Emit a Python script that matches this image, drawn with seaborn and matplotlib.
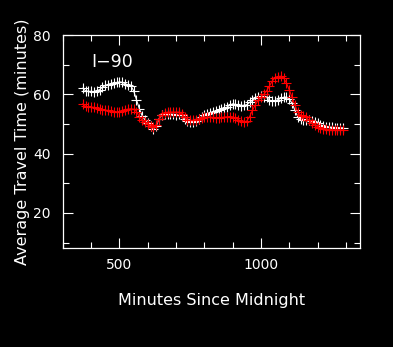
import numpy as np
import pandas as pd
import matplotlib
matplotlib.use("Agg")
import matplotlib.pyplot as plt
import seaborn as sns
from matplotlib.ticker import MultipleLocator

# Sample times (minutes since midnight), every 10 minutes
minutes = list(range(370, 1300, 10))

# Average travel time, white series
travel_white = [
    62.1, 61.2, 61.0, 61.0, 60.9, 61.2, 61.6, 62.4, 63.0, 63.3,
    63.6, 63.8, 64.0, 64.2, 64.0, 63.6, 63.2, 62.9, 61.2, 58.2,
    55.2, 52.8, 51.4, 50.3, 49.2, 48.4, 49.4, 51.8, 53.0, 53.2,
    53.4, 53.3, 53.2, 53.0, 53.2, 52.9, 51.6, 50.9, 50.5, 50.7,
    51.0, 51.6, 52.3, 52.9, 53.3, 53.7, 54.0, 54.3, 54.6, 55.0,
    55.3, 55.7, 56.3, 56.8, 56.6, 56.3, 56.2, 56.3, 56.5, 57.3,
    58.0, 58.6, 59.1, 59.3, 59.2, 59.0, 58.1, 57.6, 57.8, 58.2,
    58.6, 59.0, 59.1, 58.3, 57.0, 54.6, 52.4, 51.8, 51.5, 51.3,
    51.2, 51.0, 50.7, 50.2, 49.7, 49.4, 49.1, 48.9, 48.9, 48.8,
    48.8, 48.7, 48.7,
]

# Average travel time, red series
travel_red = [
    56.8, 56.0, 55.8, 55.7, 55.6, 55.4, 55.0, 54.7, 54.6, 54.6,
    54.4, 54.2, 54.0, 54.2, 54.5, 54.8, 55.0, 55.1, 55.0, 54.2,
    52.4, 51.3, 50.6, 50.0, 49.2, 48.9, 49.8, 51.8, 53.0, 53.8,
    54.0, 54.0, 54.0, 54.0, 54.0, 53.4, 52.3, 51.4, 51.2, 51.2,
    51.4, 51.7, 52.0, 52.2, 52.3, 52.3, 52.2, 52.0, 52.0, 52.2,
    52.3, 52.4, 52.5, 52.4, 52.0, 51.4, 51.0, 50.6, 51.0, 52.5,
    54.6, 56.5, 58.0, 59.0, 60.0, 61.2, 62.8, 64.5, 65.6, 66.0,
    66.1, 65.6, 63.8, 61.5, 59.0, 56.3, 54.0, 53.0, 52.6, 52.2,
    51.2, 50.4, 49.6, 49.1, 48.7, 48.4, 48.2, 48.1, 48.0, 48.0,
    48.0, 48.0, 48.0,
]

x_ticks = [500, 1000]
y_ticks = [20, 40, 60, 80]

sns.set_theme(style="ticks", rc={
    "figure.facecolor": "black",
    "axes.facecolor": "black",
    "axes.edgecolor": "white",
    "axes.labelcolor": "white",
    "text.color": "white",
    "xtick.color": "white",
    "ytick.color": "white",
})
plt.rcParams["font.family"] = ["DejaVu Sans"]

df = pd.DataFrame({
    "minutes": minutes * 2,
    "travel": travel_white + travel_red,
    "series": ["white"] * len(minutes) + ["red"] * len(minutes),
})

fig = plt.figure(figsize=(3.93, 3.47), dpi=100)
ax = fig.add_axes([0.160, 0.284, 0.756, 0.615])

sns.lineplot(
    data=df, x="minutes", y="travel", hue="series",
    palette={"white": "#ffffff", "red": "#ff0000"},
    hue_order=["white", "red"],
    marker="+", markersize=6.5, markeredgewidth=0.8, linewidth=0.8,
    legend=False, ax=ax,
)
# cross markers take the colour of their own line
for ln in ax.lines:
    ln.set_markeredgecolor(ln.get_color())

ax.set_xlim(300, 1350)
ax.set_ylim(8, 80)
ax.set_xticks(x_ticks)
ax.set_yticks(y_ticks)
ax.xaxis.set_minor_locator(MultipleLocator(100))
ax.yaxis.set_minor_locator(MultipleLocator(10))
ax.tick_params(which="both", direction="in", top=True, right=True,
               labelsize=10, width=0.8, colors="white")
ax.tick_params(which="major", length=7)
ax.tick_params(which="minor", length=4)
ax.tick_params(axis="x", pad=7)
ax.tick_params(axis="y", pad=9)
for s in ax.spines.values():
    s.set_color("white")
    s.set_linewidth(0.9)

ax.set_xlabel("Minutes Since Midnight", fontsize=11.5, labelpad=15)
ax.set_ylabel("Average Travel Time (minutes)", fontsize=11.5, labelpad=2)
ax.text(0.095, 0.915, "I\u221290", transform=ax.transAxes,
        fontsize=12.5, color="white", ha="left", va="top")

fig.savefig("out.png", dpi=100, facecolor="black")
